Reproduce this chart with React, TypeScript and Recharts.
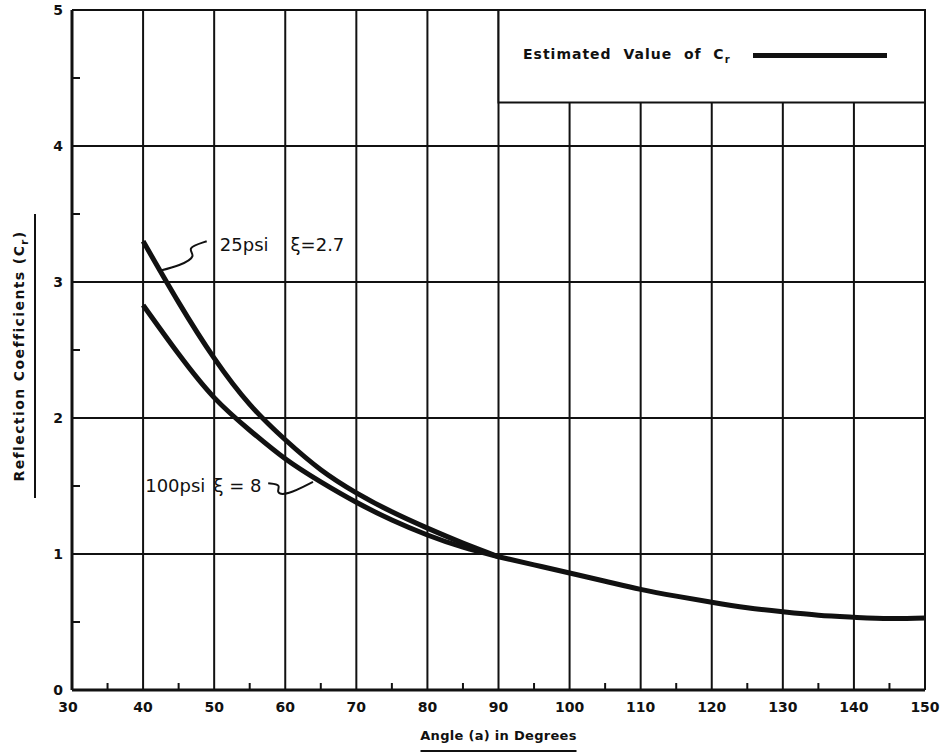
import {
  LineChart,
  Line,
  XAxis,
  YAxis,
  CartesianGrid,
  ReferenceArea,
  ReferenceDot,
  Legend,
  Label,
} from 'recharts';

// axis ticks / grid
const xTicks = [30, 35, 40, 45, 50, 55, 60, 65, 70, 75, 80, 85, 90, 95, 100, 105, 110, 115, 120, 125, 130, 135, 140, 145, 150];
const yTicks = [0, 0.5, 1, 1.5, 2, 2.5, 3, 3.5, 4, 4.5, 5];
const gridX = [40, 50, 60, 70, 80, 90, 100, 110, 120, 130, 140, 150];
const gridY = [1, 2, 3, 4, 5];

// 25 psi, xi = 2.7
const angles25 = [40, 45, 50, 55, 60, 65, 70, 75, 80, 85, 90];
const cr25 = [3.3, 2.85, 2.44, 2.1, 1.84, 1.62, 1.45, 1.31, 1.19, 1.08, 0.98];

// 100 psi, xi = 8
const angles100 = [40, 45, 50, 55, 60, 65, 70, 75, 80, 85, 90];
const cr100 = [2.83, 2.47, 2.15, 1.91, 1.7, 1.53, 1.38, 1.25, 1.14, 1.05, 0.98];

// estimated value of Cr
const anglesEst = [90, 95, 100, 105, 110, 115, 120, 125, 130, 135, 140, 145, 150];
const crEst = [0.98, 0.92, 0.86, 0.8, 0.74, 0.69, 0.645, 0.605, 0.575, 0.55, 0.535, 0.525, 0.53];

// hand-drawn leaders from the labels to the curves
const leader25X = [48.95, 46.0, 47.6, 45.2, 42.1];
const leader25Y = [3.3, 3.25, 3.19, 3.12, 3.08];
const leader100X = [57.6, 59.5, 58.6, 60.2, 63.9];
const leader100Y = [1.52, 1.51, 1.45, 1.43, 1.53];

const toPoints = (xs: number[], ys: number[]) =>
  xs.map((angle, i) => ({ angle, cr: ys[i] }));

const FONT = '"DejaVu Sans", "Liberation Sans", sans-serif';
const INK = '#111';

const XTick = ({ x, y, payload }: any) => {
  const v = payload.value;
  if (v % 10 !== 0) {
    return <line x1={x} x2={x} y1={y} y2={y - 7} stroke={INK} strokeWidth={2} />;
  }
  return (
    <text x={v === 30 ? x - 4 : x} y={y + 22} textAnchor="middle" fontFamily={FONT} fontWeight={700} fontSize={14} fill={INK}>
      {v}
    </text>
  );
};

const YTick = ({ x, y, payload }: any) => {
  const v = payload.value;
  if (v % 1 !== 0) {
    return <line x1={x} x2={x + 8} y1={y} y2={y} stroke={INK} strokeWidth={2} />;
  }
  return (
    <text x={x - 9} y={y + 5} textAnchor="end" fontFamily={FONT} fontWeight={700} fontSize={14} fill={INK}>
      {v}
    </text>
  );
};

const XTitle = ({ viewBox }: any) => {
  const cx = viewBox.x + viewBox.width / 2;
  const y = viewBox.y + 50;
  return (
    <g>
      <text x={cx} y={y} textAnchor="middle" fontFamily={FONT} fontWeight={700} fontSize={13} fill={INK} letterSpacing={0.3}>
        Angle (a) in Degrees
      </text>
      <line x1={cx - 78} x2={cx + 78} y1={y + 11} y2={y + 11} stroke={INK} strokeWidth={2} />
    </g>
  );
};

const YTitle = ({ viewBox }: any) => {
  const cy = viewBox.y + viewBox.height / 2 + 6;
  const x = 24;
  return (
    <g transform={`rotate(-90, ${x}, ${cy})`}>
      <text x={x} y={cy} textAnchor="middle" fontFamily={FONT} fontWeight={700} fontSize={14} fill={INK} letterSpacing={1.4}>
        Reflection  Coefficients  (C<tspan dy={4} fontSize={10}>r</tspan>
        <tspan dy={-4}>)</tspan>
      </text>
      <line x1={x - 142} x2={x + 142} y1={cy + 11} y2={cy + 11} stroke={INK} strokeWidth={2} />
    </g>
  );
};

const note = (main: string, xi: string, gap: number) => ({ viewBox }: any) => (
  <text x={viewBox.x} y={viewBox.y + 7} fontFamily={FONT} fontSize={18} fill={INK}>
    {main}
    <tspan dx={gap}>{xi}</tspan>
  </text>
);

const LegendBox = () => (
  <div style={{ display: 'flex', alignItems: 'center', fontFamily: FONT, fontWeight: 700, fontSize: 14, color: INK, letterSpacing: 1 }}>
    <span style={{ display: 'inline-block', width: 230, whiteSpace: 'nowrap' }}>
      Estimated&nbsp; Value&nbsp; of&nbsp; C<sub style={{ fontSize: 10 }}>r</sub>
    </span>
    <span style={{ display: 'inline-block', width: 134, height: 5, background: INK }} />
  </div>
);

export default function App() {
  return (
    <div style={{ position: 'absolute', left: 0, top: 0, background: '#fff' }}>
      <LineChart width={943} height={754} margin={{ top: 10, right: 18, bottom: 0, left: 0 }}>
        <CartesianGrid
          verticalValues={gridX}
          horizontalValues={gridY}
          stroke={INK}
          strokeWidth={2}
        />
        <XAxis
          dataKey="angle"
          type="number"
          domain={[30, 150]}
          ticks={xTicks}
          interval={0}
          height={64}
          tickSize={0}
          tickMargin={0}
          tickLine={false}
          tick={<XTick />}
          axisLine={{ stroke: INK, strokeWidth: 3 }}
          allowDataOverflow
        >
          <Label content={<XTitle />} />
        </XAxis>
        <YAxis
          type="number"
          domain={[0, 5]}
          ticks={yTicks}
          interval={0}
          width={72}
          tickSize={0}
          tickMargin={0}
          tickLine={false}
          tick={<YTick />}
          axisLine={{ stroke: INK, strokeWidth: 3 }}
          allowDataOverflow
        >
          <Label content={<YTitle />} />
        </YAxis>
        <ReferenceArea
          x1={90}
          x2={150}
          y1={4.32}
          y2={5}
          fill="#fff"
          fillOpacity={1}
          stroke={INK}
          strokeWidth={2}
          ifOverflow="visible"
        />
        <Line data={toPoints(angles25, cr25)} dataKey="cr" name="25 psi" type="natural" stroke={INK} strokeWidth={5} dot={false} legendType="none" isAnimationActive={false} />
        <Line data={toPoints(angles100, cr100)} dataKey="cr" name="100 psi" type="natural" stroke={INK} strokeWidth={5} dot={false} legendType="none" isAnimationActive={false} />
        <Line data={toPoints(anglesEst, crEst)} dataKey="cr" name="Estimated Value of Cr" type="natural" stroke={INK} strokeWidth={5} dot={false} isAnimationActive={false} />
        <Line data={toPoints(leader25X, leader25Y)} dataKey="cr" name="leader 25" type="basis" stroke={INK} strokeWidth={2} dot={false} legendType="none" isAnimationActive={false} />
        <Line data={toPoints(leader100X, leader100Y)} dataKey="cr" name="leader 100" type="basis" stroke={INK} strokeWidth={2} dot={false} legendType="none" isAnimationActive={false} />
        <ReferenceDot x={50.8} y={3.28} r={0} fill="none" stroke="none">
          <Label content={note('25psi', 'ξ=2.7', 22)} />
        </ReferenceDot>
        <ReferenceDot x={40.3} y={1.51} r={0} fill="none" stroke="none">
          <Label content={note('100psi', 'ξ = 8', 8)} />
        </ReferenceDot>
        <Legend
          verticalAlign="middle"
          align="center"
          content={<LegendBox />}
          wrapperStyle={{ position: 'absolute', left: 523, top: 46, width: 'auto' }}
        />
      </LineChart>
    </div>
  );
}
